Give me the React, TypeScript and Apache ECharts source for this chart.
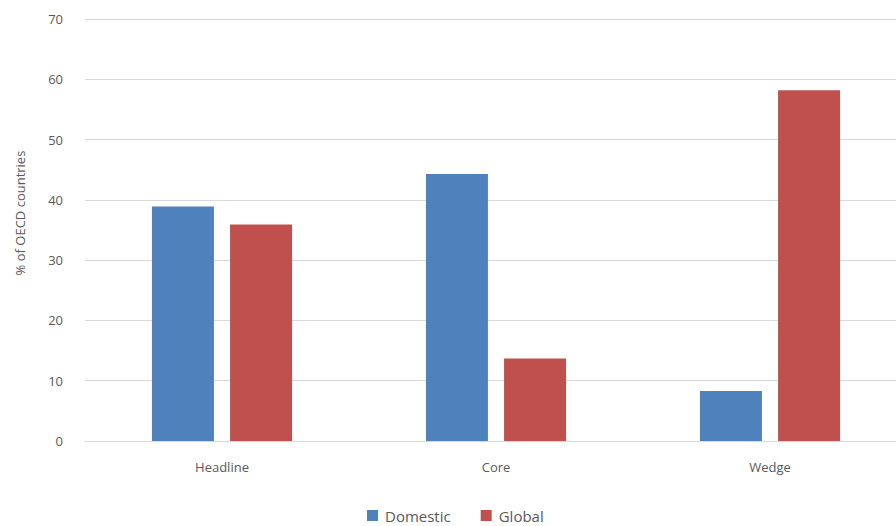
import React, { useEffect, useRef } from "react";
import * as echarts from "echarts";

const categories = ["Headline", "Core", "Wedge"];
const domestic = [38.9, 44.3, 8.3];
const global = [35.9, 13.7, 58.2];
const yTicks = [0, 10, 20, 30, 40, 50, 60, 70];

const FONT = "'Open Sans', 'Noto Sans', sans-serif";
const TXT = "#595959";

export default function App() {
  const ref = useRef<HTMLDivElement>(null);
  useEffect(() => {
    if (!ref.current) return;
    const chart = echarts.init(ref.current, null, { renderer: "svg" });
    chart.setOption({
      animation: false,
      backgroundColor: "#ffffff",
      textStyle: { fontFamily: FONT },
      grid: { left: 85, top: 19, right: 0, height: 422, containLabel: false },
      legend: {
        data: ["Domestic", "Global"],
        left: 362,
        top: 503,
        itemWidth: 11,
        itemHeight: 11,
        itemGap: 30,
        icon: "rect",
        textStyle: { color: TXT, fontSize: 15, fontFamily: FONT, padding: [0, 0, 0, 2] },
      },
      xAxis: {
        type: "category",
        data: categories,
        axisLine: { show: true, lineStyle: { color: "#d9d9d9", width: 1 } },
        axisTick: { show: false },
        axisLabel: { color: TXT, fontSize: 13, margin: 19, fontFamily: FONT },
      },
      yAxis: {
        type: "value",
        min: yTicks[0],
        max: yTicks[yTicks.length - 1],
        interval: 10,
        axisLine: { show: false },
        axisTick: { show: false },
        splitLine: { lineStyle: { color: "#d9d9d9", width: 1 } },
        axisLabel: { color: TXT, fontSize: 13, margin: 22, fontFamily: FONT },
      },
      graphic: [
        {
          type: "text",
          x: 20,
          y: 213,
          rotation: Math.PI / 2,
          style: {
            text: "% of OECD countries",
            fill: TXT,
            font: `13px ${FONT}`,
            align: "center",
            verticalAlign: "middle",
          },
        },
      ],
      series: [
        {
          name: "Domestic",
          type: "bar",
          data: domestic,
          barWidth: 62,
          barGap: "26%",
          itemStyle: { color: "#4f81bd" },
        },
        {
          name: "Global",
          type: "bar",
          data: global,
          barWidth: 62,
          barGap: "26%",
          itemStyle: { color: "#c0504d" },
        },
      ],
    });
    return () => chart.dispose();
  }, []);
  return (
    <div style={{ width: 896, height: 526, position: "absolute", left: 0, top: 0, overflow: "hidden" }}>
      <div ref={ref} style={{ width: 907, height: 526 }} />
    </div>
  );
}
